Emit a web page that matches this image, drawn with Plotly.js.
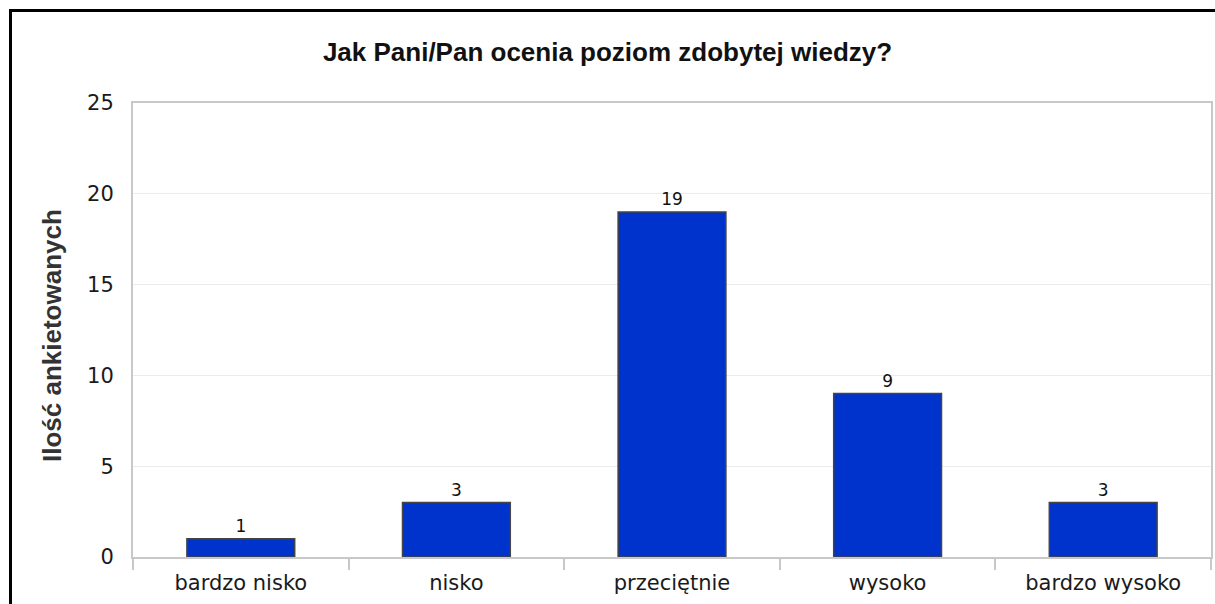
<!DOCTYPE html>
<html>
<head>
<meta charset="utf-8">
<script src="https://cdn.plot.ly/plotly-3.0.1.min.js"></script>
<style>
  body { margin: 0; padding: 0; background: #fff; overflow: hidden; }
  #chart { position: absolute; left: 0; top: 0; width: 1215px; height: 604px; }
  #frame { position: absolute; left: 9px; top: 9px; width: 1400px; height: 800px;
           border-left: 3px solid #000; border-top: 3px solid #000; pointer-events: none; }
</style>
</head>
<body>
<div id="chart"></div>
<div id="frame"></div>
<script>
// answers to the survey question
var categories = ['bardzo nisko', 'nisko', 'przeciętnie', 'wysoko', 'bardzo wysoko'];
var counts = [1, 3, 19, 9, 3];
var yTicks = [0, 5, 10, 15, 20, 25];

var barColor = '#0033cc';
var lineGray = '#c8c8c8';

var trace = {
  x: categories,
  y: counts,
  type: 'bar',
  text: counts.map(String),
  textposition: 'outside',
  cliponaxis: false,
  textfont: {family: 'DejaVu Sans, sans-serif', size: 17, color: '#111'},
  marker: {color: barColor, line: {color: '#444', width: 1.5}},
  hoverinfo: 'none'
};

var layout = {
  width: 1215,
  height: 604,
  paper_bgcolor: '#fff',
  plot_bgcolor: '#fff',
  showlegend: false,
  bargap: 0.5,
  margin: {l: 133, r: 4, t: 103, b: 47, pad: 0},
  title: {
    text: 'Jak Pani/Pan ocenia poziom zdobytej wiedzy?',
    font: {family: 'Liberation Sans, Arial, sans-serif', size: 26, color: '#111', weight: 'bold'},
    x: 0.5, xref: 'container', xanchor: 'center',
    y: 45, yref: 'container', yanchor: 'middle'
  },
  // y title placed as an annotation so it can sit where the original has it
  annotations: [{
    text: 'Ilość ankietowanych',
    textangle: -90,
    xref: 'paper', yref: 'paper',
    x: (52 - 133) / 1078, y: (557 - 336) / 454,
    xanchor: 'center', yanchor: 'middle',
    showarrow: false,
    font: {family: 'Liberation Sans, Arial, sans-serif', size: 26, color: '#333', weight: 'bold'}
  }],
  xaxis: {
    type: 'category',
    tickson: 'boundaries',
    ticks: 'outside',
    ticklen: 11,
    tickwidth: 2,
    tickcolor: lineGray,
    showline: true,
    linecolor: lineGray,
    linewidth: 2,
    mirror: true,
    showgrid: false,
    tickfont: {family: 'DejaVu Sans, sans-serif', size: 21, color: '#1a1a1a'},
    ticklabelstandoff: 6
  },
  yaxis: {
    range: [0, 25],
    tickvals: yTicks,
    ticks: '',
    showline: true,
    linecolor: lineGray,
    linewidth: 2,
    mirror: true,
    gridcolor: '#ebebeb',
    gridwidth: 1,
    zeroline: false,
    tickfont: {family: 'DejaVu Sans, sans-serif', size: 21, color: '#1a1a1a'},
    ticklabelstandoff: 13
  }
};

Plotly.newPlot('chart', [trace], layout, {displayModeBar: false, staticPlot: true});
</script>
</body>
</html>
